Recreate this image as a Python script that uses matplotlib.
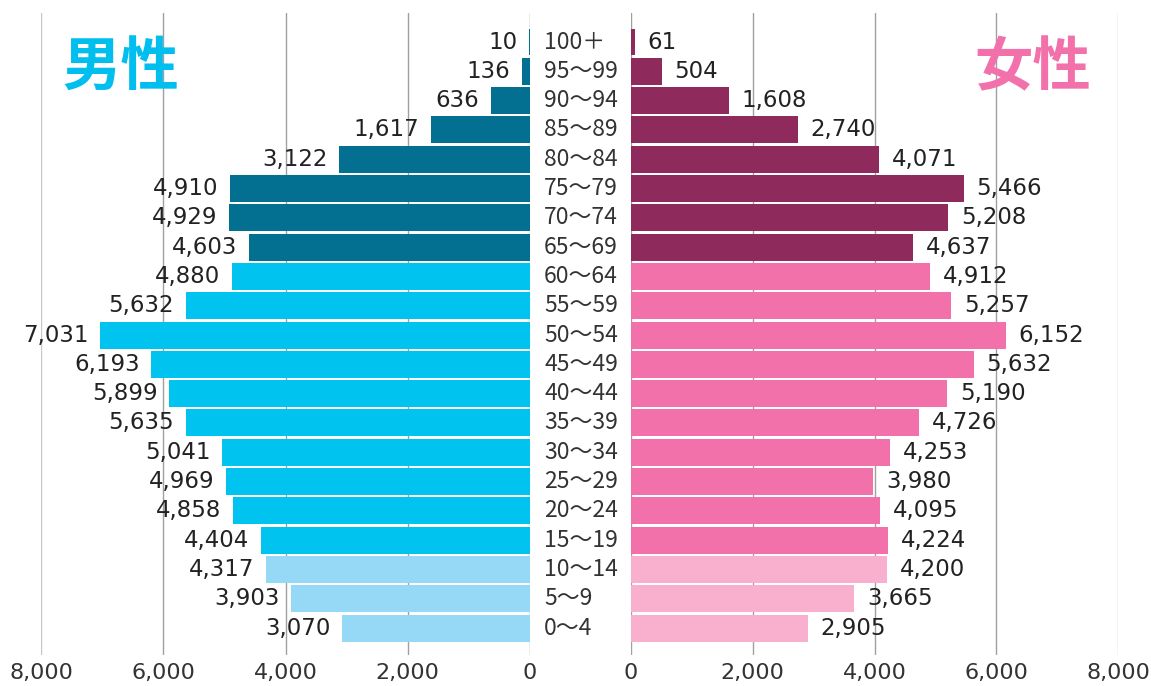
import numpy as np
import matplotlib.pyplot as plt

plt.switch_backend("Agg")
plt.rcParams["font.family"] = ["Noto Sans CJK JP", "DejaVu Sans"]

ages = ["0～4", "5～9", "10～14", "15～19", "20～24", "25～29", "30～34",
        "35～39", "40～44", "45～49", "50～54", "55～59", "60～64", "65～69",
        "70～74", "75～79", "80～84", "85～89", "90～94", "95～99", "100＋"]
male = [3070, 3903, 4317, 4404, 4858, 4969, 5041, 5635, 5899, 6193, 7031,
        5632, 4880, 4603, 4929, 4910, 3122, 1617, 636, 136, 10]
female = [2905, 3665, 4200, 4224, 4095, 3980, 4253, 4726, 5190, 5632, 6152,
          5257, 4912, 4637, 5208, 5466, 4071, 2740, 1608, 504, 61]
ticks = [0, 2000, 4000, 6000, 8000]

# 0-14 / 15-64 / 65+
male_cols = ["#95d9f6"] * 3 + ["#00c3f0"] * 10 + ["#036f91"] * 8
female_cols = ["#f9b0cf"] * 3 + ["#f371ab"] * 10 + ["#8e2a5c"] * 8

num_font = ["DejaVu Sans"]

fig = plt.figure(figsize=(11.51, 6.86), dpi=100)
axl = fig.add_axes([41 / 1151, 31 / 686, 489 / 1151, 642 / 686])
axr = fig.add_axes([631 / 1151, 31 / 686, 487 / 1151, 642 / 686])

y = np.arange(len(ages))
axl.barh(y, male, height=0.92, color=male_cols, zorder=2)
axr.barh(y, female, height=0.92, color=female_cols, zorder=2)
axl.set_xlim(8000, 0)
axr.set_xlim(0, 8000)

for ax in (axl, axr):
    ax.set_ylim(-0.92, 20.99)
    ax.set_yticks([])
    ax.set_xticks(ticks)
    ax.set_xticklabels([f"{t:,}" for t in ticks], family=num_font)
    ax.tick_params(axis="x", length=0, labelsize=16, colors="#333333", pad=6)
    for s in ax.spines.values():
        s.set_visible(False)
    for t in ticks:
        ax.axvline(t, color="#c8c8c8" if t == 8000 else "#a0a0a0", lw=1, zorder=1)

for yi, v in zip(y, male):
    axl.text(v + 190, yi, f"{v:,}", ha="right", va="center", fontsize=16.5,
             color="#222222", family=num_font)
for yi, v in zip(y, female):
    axr.text(v + 210, yi, f"{v:,}", ha="left", va="center", fontsize=16.5,
             color="#222222", family=num_font)
for yi, a in zip(y, ages):
    axl.text(-230, yi, a, ha="left", va="center", fontsize=16.5, color="#333333",
             clip_on=False)

fig.text(62 / 1151, 1 - 68 / 686, "男性", fontsize=42, fontweight="bold",
         color="#00bfef", va="center", ha="left")
fig.text(1091 / 1151, 1 - 68 / 686, "女性", fontsize=42, fontweight="bold",
         color="#f371ab", va="center", ha="right")

fig.savefig("out.png", dpi=100)
